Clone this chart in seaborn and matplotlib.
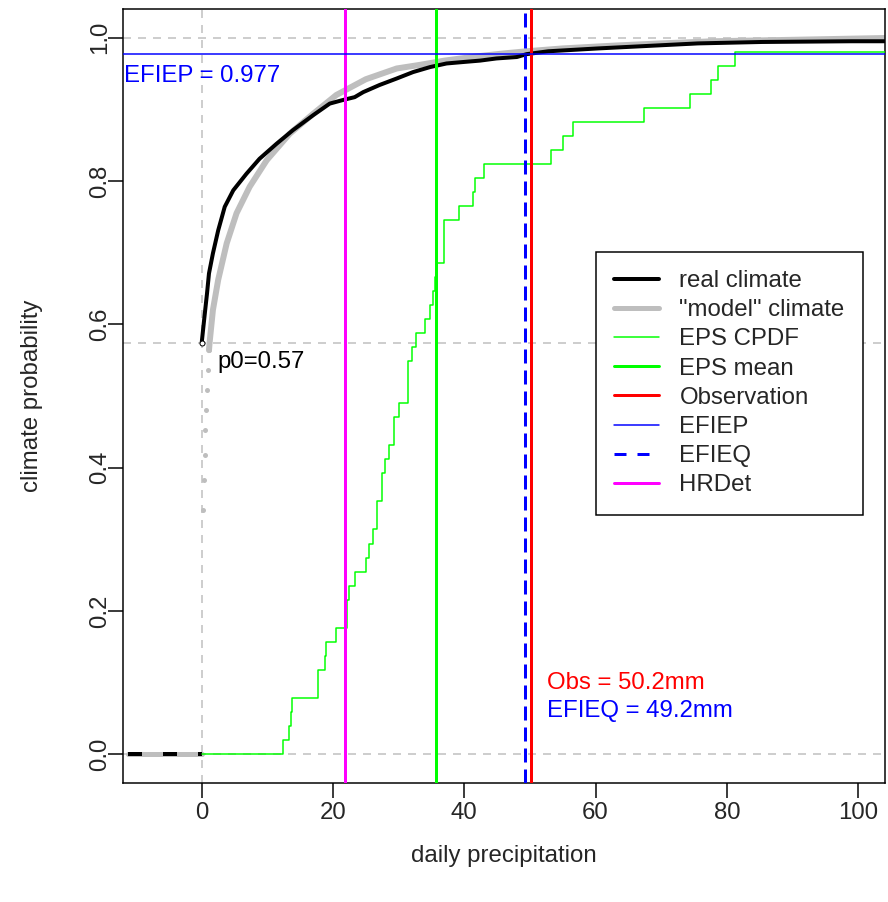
import matplotlib
matplotlib.use("Agg")
import numpy as np
import pandas as pd
import matplotlib.pyplot as plt
from matplotlib.lines import Line2D
import seaborn as sns

sns.set_style("white")
plt.rcParams["font.family"] = ["Liberation Sans", "DejaVu Sans"]
plt.rcParams["lines.scale_dashes"] = False

# ---------------- data ----------------
# ensemble members (51) of the EPS, daily precipitation (mm)
eps_members = [12.4, 13.3, 13.6, 13.8, 17.7, 17.7, 18.8, 18.9, 20.5, 22.1,
               22.1, 22.4, 23.3, 25.1, 25.5, 26.1, 26.7, 26.7, 27.5, 27.5,
               27.9, 28.6, 29.3, 29.3, 30.1, 31.4, 31.4, 31.4, 32.1, 32.7,
               34.0, 34.7, 35.3, 35.6, 35.8, 36.9, 36.9, 36.9, 39.2, 41.4,
               41.6, 43.0, 53.2, 55.1, 56.5, 67.4, 74.4, 77.6, 78.7, 81.3,
               112.0]

# real climate CDF
real_x = [0.0, 0.3, 0.5, 0.8, 1.1, 1.7, 2.5, 3.5, 4.8, 6.8, 8.8, 11.4, 13.9,
          17.0, 19.5, 21.5, 23.3, 24.6, 27.1, 29.7, 32.2, 34.8, 37.3, 39.8,
          42.4, 44.9, 48.0, 49.5, 52.8, 60.4, 75.6, 85.4, 99.0, 104.0]
real_p = [0.575, 0.601, 0.618, 0.643, 0.671, 0.699, 0.731, 0.764, 0.787,
          0.810, 0.831, 0.852, 0.871, 0.892, 0.908, 0.913, 0.917, 0.924,
          0.934, 0.943, 0.952, 0.959, 0.964, 0.966, 0.968, 0.971, 0.973,
          0.977, 0.981, 0.985, 0.992, 0.994, 0.995, 0.995]

# "model" climate CDF
model_x = [1.1, 1.2, 1.7, 2.5, 3.8, 5.3, 7.3, 9.9, 13.4, 17.0, 20.5, 25.0,
           29.7, 33.2, 37.0, 42.0, 46.0, 49.5, 55.0, 63.0, 70.0, 78.0, 90.0,
           104.0]
model_p = [0.564, 0.575, 0.620, 0.662, 0.713, 0.755, 0.792, 0.829, 0.866,
           0.894, 0.920, 0.942, 0.957, 0.962, 0.968, 0.974, 0.978, 0.981,
           0.985, 0.989, 0.992, 0.995, 0.997, 0.9995]
model_low_x = [0.2, 0.35, 0.46, 0.56, 0.7, 0.8, 0.96, 1.07]
model_low_p = [0.341, 0.383, 0.418, 0.452, 0.480, 0.508, 0.536, 0.564]

dry_x = [-11.3, 0.0]
dry_p = [0.0, 0.0]

p0 = 0.574
efiep = 0.977
efieq = 49.2
obs = 50.2
eps_mean = 35.7
hrdet = 21.8

legend_labels = ["real climate", "\"model\" climate", "EPS CPDF", "EPS mean",
                 "Observation", "EFIEP", "EFIEQ", "HRDet"]

# ---------------- figure ----------------
def px(n):
    return n * 72.0 / 100.0

W, H = 888, 902
fig = plt.figure(figsize=(W / 100, H / 100), dpi=100)
L, R, T, B = 123, 885, 9, 783
ax = fig.add_axes([L / W, 1 - B / H, (R - L) / W, (B - T) / H])
ax.set_xlim(-12.0, 104.1)
ax.set_ylim(-0.04, 1.04)

GRAY = "#BEBEBE"
GREEN = "#00FF00"
dash_ref = (px(8), px(7))

for yv in (0.0, 1.0, p0):
    ax.axhline(yv, color=GRAY, lw=px(1.5), dashes=dash_ref, zorder=1)
ax.axvline(0.0, color=GRAY, lw=px(1.5), dashes=dash_ref, zorder=1)

# dry days (negative axis)
sns.lineplot(x=dry_x, y=dry_p, ax=ax, color=GRAY, lw=px(5), sort=False,
             estimator=None, zorder=2)
ax.plot(dry_x, dry_p, color="black", lw=px(4), dashes=(px(14), px(21)),
        zorder=2.1)

# model climate
sns.lineplot(x=model_x, y=model_p, ax=ax, color=GRAY, lw=px(6), sort=False,
             estimator=None, zorder=2, solid_capstyle="round")
sns.scatterplot(x=model_low_x, y=model_low_p, ax=ax, color=GRAY, s=px(5) ** 2,
                linewidth=0, zorder=2)

# real climate
sns.lineplot(x=real_x, y=real_p, ax=ax, color="black", lw=px(4), sort=False,
             estimator=None, zorder=3, solid_capstyle="round")
ax.plot([0.0], [p0], marker="o", mfc="white", mec="black", ms=px(5),
        mew=px(1), zorder=4)

# EPS CDF
n = len(eps_members)
srt = sorted(eps_members)
eps_x = [0.0] + srt
eps_p = [0.0] + [(i + 1) / n for i in range(n)]
sns.lineplot(x=eps_x, y=eps_p, ax=ax, color=GREEN, lw=px(1.5), sort=False,
             estimator=None, drawstyle="steps-post", zorder=4)

# vertical lines
ax.axvline(hrdet, color="#FF00FF", lw=px(3), zorder=5)
ax.axvline(eps_mean, color=GREEN, lw=px(3), zorder=5)
ax.axvline(efieq, color="#0000FF", lw=px(3), dashes=(px(14), px(7)), zorder=5)
ax.axvline(obs, color="#FF0000", lw=px(3), zorder=5)
ax.axhline(efiep, color="#0000FF", lw=px(1.5), zorder=5)

FS = 17.3
ax.text(-11.9, 0.946, f"EFIEP = {efiep:.3f}", color="#0000FF", fontsize=FS,
        ha="left", va="center")
ax.text(2.4, 0.547, f"p0={p0:.2f}", color="black", fontsize=FS,
        ha="left", va="center")
ax.text(52.6, 0.100, f"Obs = {obs:.1f}mm", color="#FF0000", fontsize=FS,
        ha="left", va="center")
ax.text(52.6, 0.061, f"EFIEQ = {efieq:.1f}mm", color="#0000FF", fontsize=FS,
        ha="left", va="center")

# axes styling
ax.set_xticks([0, 20, 40, 60, 80, 100])
ax.set_yticks([0.0, 0.2, 0.4, 0.6, 0.8, 1.0])
ax.set_yticklabels(["0.0", "0.2", "0.4", "0.6", "0.8", "1.0"], rotation=90,
                   va="center", ha="center")
ax.tick_params(axis="both", direction="out", length=px(15), width=px(1.5),
               color="black", labelsize=FS, pad=px(4), left=True, bottom=True)
ax.tick_params(axis="y", pad=px(8))
for s in ax.spines.values():
    s.set_color("black")
    s.set_linewidth(px(1.5))
ax.set_xlabel("daily precipitation", fontsize=FS)
ax.set_ylabel("climate probability", fontsize=FS)
ax.xaxis.set_label_coords(0.5, (B - 845) / (B - T))
ax.yaxis.set_label_coords((43 - L) / (R - L), 0.5)
ax.grid(False)

handles = [
    Line2D([], [], color="black", lw=px(4)),
    Line2D([], [], color=GRAY, lw=px(5)),
    Line2D([], [], color=GREEN, lw=px(1.5)),
    Line2D([], [], color=GREEN, lw=px(3)),
    Line2D([], [], color="#FF0000", lw=px(3)),
    Line2D([], [], color="#0000FF", lw=px(1.5)),
    Line2D([], [], color="#0000FF", lw=px(3), dashes=(px(12), px(11))),
    Line2D([], [], color="#FF00FF", lw=px(3)),
]
leg = fig.legend(handles, legend_labels, loc="upper left",
                 bbox_to_anchor=(596 / W, 1 - 252 / H),
                 bbox_transform=fig.transFigure, borderaxespad=0,
                 fontsize=FS, frameon=True, fancybox=False, framealpha=1,
                 edgecolor="black", borderpad=0.75, handlelength=1.875,
                 handletextpad=0.85, labelspacing=0.3)
leg.get_frame().set_linewidth(px(1.5))

fig.savefig("out.png", dpi=100)
